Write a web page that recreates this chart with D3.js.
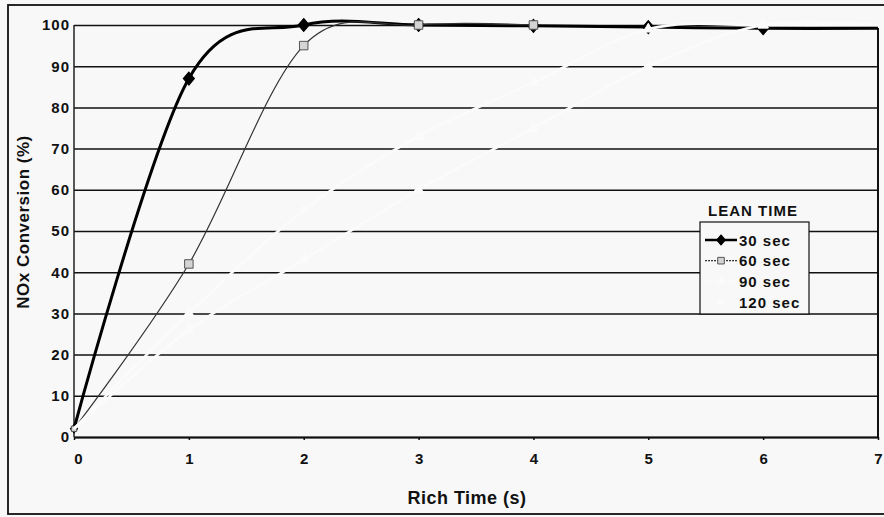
<!DOCTYPE html>
<html>
<head>
<meta charset="utf-8">
<script src="https://cdn.jsdelivr.net/npm/d3@7"></script>
<style>
  html, body { margin: 0; padding: 0; background: #f8f8f8; }
  svg { display: block; }
  text { font-family: "Liberation Sans", Arial, sans-serif; font-weight: bold; fill: #111; }
</style>
</head>
<body>
<svg id="chart" width="884" height="517"></svg>
<script>
// Rich time (s) at which each conversion was measured
const richTime = [0, 1, 2, 3, 4, 5, 6, 7];

// NOx conversion (%) for each lean time
const lean30 = [2, 87, 100, 100, 99.8, 99.5, 99.2, 99.2];
const lean60 = [2, 42, 95, 100, 100];
const lean90 = [2, 30, 55, 73, 86, 99, 100, 100];
const lean120 = [2, 26, 43, 60, 75, 90, 100, 100];

const seriesNames = ["30 sec", "60 sec", "90 sec", "120 sec"];
const xTicks = [0, 1, 2, 3, 4, 5, 6, 7];
const yTicks = [0, 10, 20, 30, 40, 50, 60, 70, 80, 90, 100];

(function drawChart() {
  const svg = d3.select("#chart");
  const W = 884;
  const pLeft = 74, pRight = 878, pTop = 25, pBottom = 437;

  const x = d3.scaleLinear().domain([0, 7]).range([pLeft, pRight]);
  const y = d3.scaleLinear().domain([0, 100]).range([pBottom, pTop]);

  // outer frame
  svg.append("rect")
    .attr("x", 8).attr("y", 5).attr("width", W).attr("height", 509)
    .attr("fill", "#f8f8f8").attr("stroke", "#111").attr("stroke-width", 1.8);

  // horizontal gridlines + y tick labels
  const yAxis = svg.append("g")
    .attr("transform", `translate(${pLeft},0)`)
    .call(d3.axisLeft(y).tickValues(yTicks).tickSize(-(pRight - pLeft)).tickPadding(4));
  yAxis.select(".domain").remove();
  yAxis.selectAll(".tick line").attr("stroke", "#111").attr("stroke-width", 1.5);
  yAxis.selectAll(".tick text")
    .style("font-size", "15px").style("letter-spacing", "1px")
    .attr("fill", "#111");

  // y axis line and right border of the plot
  svg.append("line").attr("x1", pLeft).attr("x2", pLeft).attr("y1", pTop).attr("y2", pBottom)
    .attr("stroke", "#222").attr("stroke-width", 1.5);
  svg.append("line").attr("x1", pRight).attr("x2", pRight).attr("y1", y(99.3)).attr("y2", pBottom)
    .attr("stroke", "#111").attr("stroke-width", 2);

  // x axis
  const xAxis = svg.append("g")
    .attr("transform", `translate(0,${pBottom})`)
    .call(d3.axisBottom(x).tickValues(xTicks).tickFormat(d3.format("d"))
      .tickSize(3).tickSizeOuter(0).tickPadding(13));
  xAxis.select(".domain").attr("stroke", "#111").attr("stroke-width", 1.8);
  xAxis.selectAll(".tick line").attr("stroke", "#111").attr("stroke-width", 1.5);
  xAxis.selectAll(".tick text")
    .style("font-size", "15px").attr("fill", "#111")
    .attr("dx", (d) => d === 0 ? 4 : 0);

  // axis titles
  svg.append("text")
    .attr("x", 467).attr("y", 504)
    .attr("text-anchor", "middle")
    .style("font-size", "18px").style("letter-spacing", "0.5px")
    .text("Rich Time (s)");
  svg.append("text")
    .attr("transform", "translate(29,222) rotate(-90)")
    .attr("text-anchor", "middle")
    .style("font-size", "17px").style("letter-spacing", "0.5px")
    .text("NOx Conversion (%)");

  // series
  const seriesValues = [lean30, lean60, lean90, lean120];
  const styles = [
    { stroke: "#000", width: 3, marker: d3.symbolDiamond, size: 62, fill: "#000", mstroke: "#000" },
    { stroke: "#333", width: 1.2, marker: d3.symbolSquare, size: 72, fill: "#d4d4d4", mstroke: "#555" },
    { stroke: "#fbfbfb", width: 2.6, marker: d3.symbolTriangle, size: 45, fill: "#fbfbfb", mstroke: "#fbfbfb" },
    { stroke: "#fbfbfb", width: 2.6, marker: d3.symbolTriangle, size: 45, fill: "#fbfbfb", mstroke: "#fbfbfb" }
  ];

  // smoothed line: uniform Catmull-Rom spline through every point
  const line = d3.line()
    .x((d) => x(d.t))
    .y((d) => y(d.v))
    .curve(d3.curveCardinal.tension(0));

  const markerTransform = (s, px, py) =>
    `translate(${px},${py})` + (s.marker === d3.symbolDiamond ? " scale(1.3,0.88)" : "");

  const plot = svg.append("g");
  seriesValues.forEach((vals, i) => {
    const pts = vals.map((v, k) => ({ t: richTime[k], v }));
    const s = styles[i];
    plot.append("path")
      .datum(pts)
      .attr("fill", "none")
      .attr("stroke", s.stroke)
      .attr("stroke-width", s.width)
      .attr("stroke-linejoin", "round")
      .attr("d", line);
    plot.selectAll(null)
      .data(pts.filter((d) => d.t > 0 && d.t < 7 || i < 2 && d.t === 0))
      .enter().append("path")
      .attr("transform", (d) => markerTransform(s, x(d.t), y(d.v)))
      .attr("d", d3.symbol().type(s.marker).size(d => d.t === 0 ? s.size * 0.4 : s.size))
      .attr("fill", s.fill)
      .attr("stroke", s.mstroke)
      .attr("stroke-width", 1);
  });

  // legend
  const lg = svg.append("g");
  lg.append("text")
    .attr("x", 753).attr("y", 216)
    .attr("text-anchor", "middle")
    .style("font-size", "15px").style("letter-spacing", "1px")
    .text("LEAN TIME");
  lg.append("rect")
    .attr("x", 700).attr("y", 222).attr("width", 109).attr("height", 92)
    .attr("fill", "#f8f8f8").attr("stroke", "#111").attr("stroke-width", 1.2);

  const rowY = d3.scalePoint().domain(seriesNames).range([240, 302]);
  seriesNames.forEach((name, i) => {
    const s = styles[i];
    const cy = rowY(name);
    lg.append("line")
      .attr("x1", 705).attr("x2", 737).attr("y1", cy).attr("y2", cy)
      .attr("stroke", s.stroke).attr("stroke-width", i === 0 ? 2.5 : 1.2)
      .attr("stroke-dasharray", i === 1 ? "2,1" : null);
    lg.append("path")
      .attr("transform", markerTransform(s, 721, cy))
      .attr("d", d3.symbol().type(s.marker).size(s.size * 0.6))
      .attr("fill", s.fill).attr("stroke", s.mstroke).attr("stroke-width", 1);
    lg.append("text")
      .attr("x", 739).attr("y", cy + 5.5)
      .style("font-size", "15px").style("letter-spacing", "1px")
      .text(name);
  });
})();
</script>
</body>
</html>
